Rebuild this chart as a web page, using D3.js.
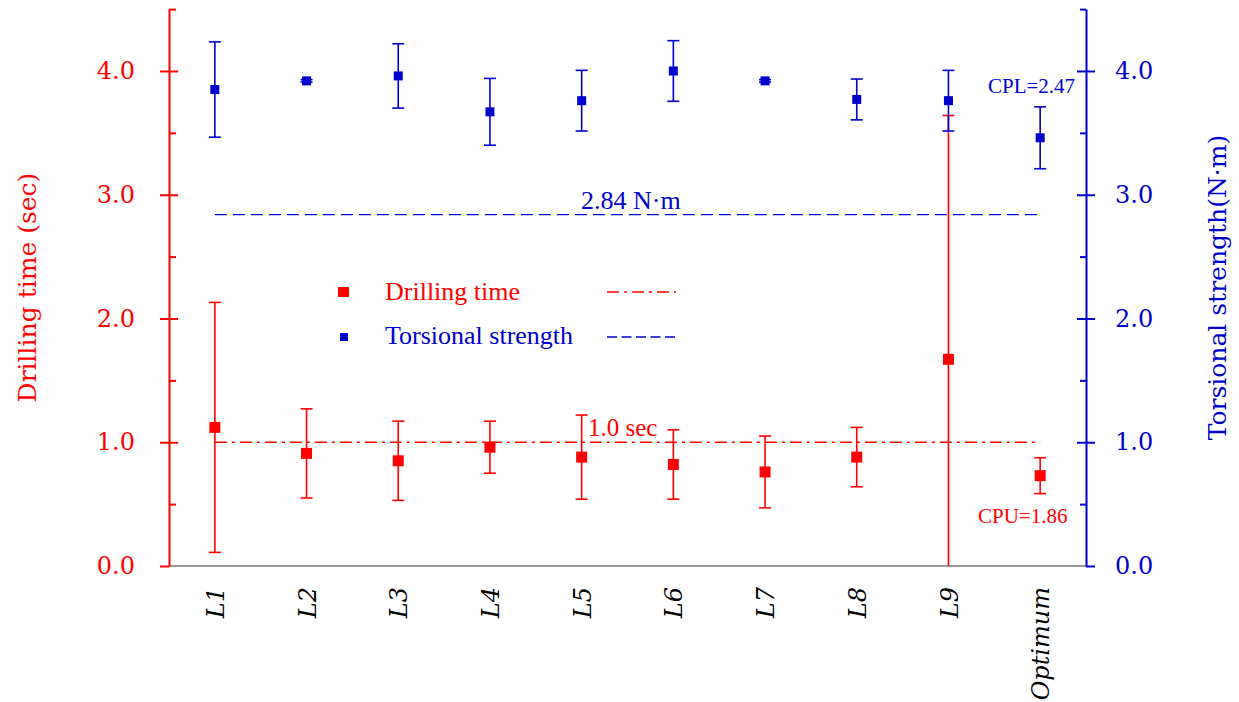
<!DOCTYPE html>
<html><head><meta charset="utf-8">
<script src="https://cdn.jsdelivr.net/npm/d3@7"></script>
<style>body{margin:0;background:#fff}svg{display:block}</style>
</head><body>
<svg id="chart" width="1239" height="702"></svg>
<script>
// ---- data ----
const categories = ["L1","L2","L3","L4","L5","L6","L7","L8","L9","Optimum"];
const drillMean  = [1.12, 0.91, 0.85, 0.96, 0.88, 0.82, 0.76, 0.88, 1.67, 0.73];
const drillErr   = [1.01, 0.36, 0.32, 0.21, 0.34, 0.28, 0.29, 0.24, 1.97, 0.145];
const torqueMean = [3.85, 3.92, 3.96, 3.67, 3.76, 4.00, 3.92, 3.77, 3.76, 3.46];
const torqueErr  = [0.385, 0.01, 0.26, 0.27, 0.245, 0.245, 0.01, 0.165, 0.245, 0.25];
const majorTicks = [0.0, 1.0, 2.0, 3.0, 4.0];
const minorTicks = [0.5, 1.5, 2.5, 3.5, 4.5];
const drillLimit = 1.0;
const torqueLimit = 2.84;
const legendLabels = ["Drilling time", "Torsional strength"];
const annotations = {torque: "2.84 N·m", drill: "1.0 sec", cpl: "CPL=2.47", cpu: "CPU=1.86"};

// ---- layout ----
const RED = "#ff0000", BLUE = "#0000cc";
const L = 169, R = 1086, T = 9.1, B = 566;
const svg = d3.select("#chart");
svg.append("rect").attr("width",1239).attr("height",702).attr("fill","#fff");

const x = d3.scalePoint().domain(categories).range([L, R]).padding(0.5);
const yL = d3.scaleLinear().domain([0, 4.5]).range([B, T]);
const yR = d3.scaleLinear().domain([0, 4.5]).range([B, T]);

svg.append("defs").append("clipPath").attr("id","plot")
  .append("rect").attr("x",L).attr("y",0).attr("width",R-L).attr("height",B);

// baseline
svg.append("line").attr("x1",L).attr("x2",R).attr("y1",B).attr("y2",B)
  .attr("stroke","#999").attr("stroke-width",2);

// reference lines
const xFirst = x(categories[0]), xLast = x(categories[categories.length-1]);
svg.append("line").attr("x1",xFirst).attr("x2",xLast)
  .attr("y1",yR(torqueLimit)).attr("y2",yR(torqueLimit))
  .attr("stroke",BLUE).attr("stroke-width",1.3).attr("stroke-dasharray","12,6");
svg.append("line").attr("x1",xFirst).attr("x2",xLast)
  .attr("y1",yL(drillLimit)).attr("y2",yL(drillLimit))
  .attr("stroke",RED).attr("stroke-width",1.3).attr("stroke-dasharray","12,5,3,5");

// error bar series
function series(mean, err, y, color, size) {
  const g = svg.append("g").attr("clip-path","url(#plot)");
  const d = categories.map((c,i)=>({c, m:mean[i], e:err[i]}));
  const grp = g.selectAll("g").data(d).join("g");
  grp.append("line").attr("x1",v=>x(v.c)).attr("x2",v=>x(v.c))
    .attr("y1",v=>y(v.m+v.e)).attr("y2",v=>y(v.m-v.e))
    .attr("stroke",color).attr("stroke-width",1.6);
  grp.append("line").attr("x1",v=>x(v.c)-6).attr("x2",v=>x(v.c)+6)
    .attr("y1",v=>y(v.m+v.e)).attr("y2",v=>y(v.m+v.e))
    .attr("stroke",color).attr("stroke-width",1.6);
  grp.filter(v=>v.m-v.e>=0).append("line").attr("x1",v=>x(v.c)-6).attr("x2",v=>x(v.c)+6)
    .attr("y1",v=>y(v.m-v.e)).attr("y2",v=>y(v.m-v.e))
    .attr("stroke",color).attr("stroke-width",1.6);
  grp.append("rect").attr("x",v=>x(v.c)-size/2).attr("y",v=>y(v.m)-size/2)
    .attr("width",size).attr("height",size).attr("fill",color);
}
series(drillMean, drillErr, yL, RED, 11);
series(torqueMean, torqueErr, yR, BLUE, 9);

// axes
const serif = "'DejaVu Serif', serif";
function styleAxis(g, color) {
  g.select(".domain").attr("stroke",color).attr("stroke-width",2);
  g.selectAll(".tick line").attr("stroke",color).attr("stroke-width",2);
  g.selectAll(".tick text").attr("fill",color).attr("font-family",serif).attr("font-size",24);
}
const gl = svg.append("g").attr("transform",`translate(${L},0)`)
  .call(d3.axisLeft(yL).tickValues(majorTicks).tickFormat(d3.format(".1f")).tickSize(9).tickSizeOuter(0).tickPadding(25));
gl.selectAll(".tick line").attr("x1", d => d === 0 ? 0 : 9);
styleAxis(gl, RED);
const glm = svg.append("g").attr("transform",`translate(${L},0)`)
  .call(d3.axisLeft(yL).tickValues(minorTicks).tickFormat("").tickSize(-7).tickSizeOuter(0));
styleAxis(glm, RED);
glm.select(".domain").remove();

const gr = svg.append("g").attr("transform",`translate(${R},0)`)
  .call(d3.axisRight(yR).tickValues(majorTicks).tickFormat(d3.format(".1f")).tickSize(9).tickSizeOuter(0).tickPadding(20));
gr.selectAll(".tick line").attr("x1", d => d === 0 ? 0 : -9);
styleAxis(gr, BLUE);
const grm = svg.append("g").attr("transform",`translate(${R},0)`)
  .call(d3.axisRight(yR).tickValues(minorTicks).tickFormat("").tickSize(-6).tickSizeOuter(0));
styleAxis(grm, BLUE);
grm.select(".domain").remove();

// x labels
const gx = svg.append("g").attr("transform",`translate(0,${B})`)
  .call(d3.axisBottom(x).tickSize(0).tickPadding(0));
gx.select(".domain").remove();
gx.selectAll(".tick text")
  .attr("transform","rotate(-90)")
  .attr("x",-21).attr("y",0).attr("dy","0.36em")
  .attr("text-anchor","end")
  .attr("font-family",serif).attr("font-style","italic").attr("font-size",24).attr("fill","#000");

// axis titles
svg.append("text").attr("transform",`translate(36,${(T+B)/2}) rotate(-90)`)
  .attr("text-anchor","middle").attr("font-family",serif).attr("font-size",25).attr("fill",RED)
  .text("Drilling time (sec)");
svg.append("text").attr("transform",`translate(1226,${(T+B)/2}) rotate(-90)`)
  .attr("text-anchor","middle").attr("font-family",serif).attr("font-size",25).attr("fill",BLUE)
  .text("Torsional strength(N·m)");

// annotations
const times = "'Liberation Serif', 'Times New Roman', serif";
svg.append("text").attr("x",581).attr("y",209).attr("font-family",times).attr("font-size",26).attr("fill",BLUE).text(annotations.torque);
svg.append("text").attr("x",588).attr("y",436).attr("font-family",times).attr("font-size",25).attr("fill",RED).text(annotations.drill);
svg.append("text").attr("x",988).attr("y",93).attr("font-family",times).attr("font-size",21).attr("fill",BLUE).text(annotations.cpl);
svg.append("text").attr("x",978).attr("y",523).attr("font-family",times).attr("font-size",21).attr("fill",RED).text(annotations.cpu);

// legend
const leg = svg.append("g");
leg.append("rect").attr("x",338).attr("y",287).attr("width",11).attr("height",10).attr("fill",RED);
leg.append("text").attr("x",385).attr("y",300).attr("font-family",times).attr("font-size",26).attr("fill",RED).text(legendLabels[0]);
leg.append("line").attr("x1",607).attr("x2",676).attr("y1",292).attr("y2",292)
  .attr("stroke",RED).attr("stroke-width",1.3).attr("stroke-dasharray","12,5,3,5");
leg.append("rect").attr("x",340).attr("y",333).attr("width",8).attr("height",8).attr("fill",BLUE);
leg.append("text").attr("x",385).attr("y",344).attr("font-family",times).attr("font-size",26).attr("fill",BLUE).text(legendLabels[1]);
leg.append("line").attr("x1",607).attr("x2",676).attr("y1",337).attr("y2",337)
  .attr("stroke",BLUE).attr("stroke-width",1.3).attr("stroke-dasharray","10,4.5");
</script>
</body></html>
